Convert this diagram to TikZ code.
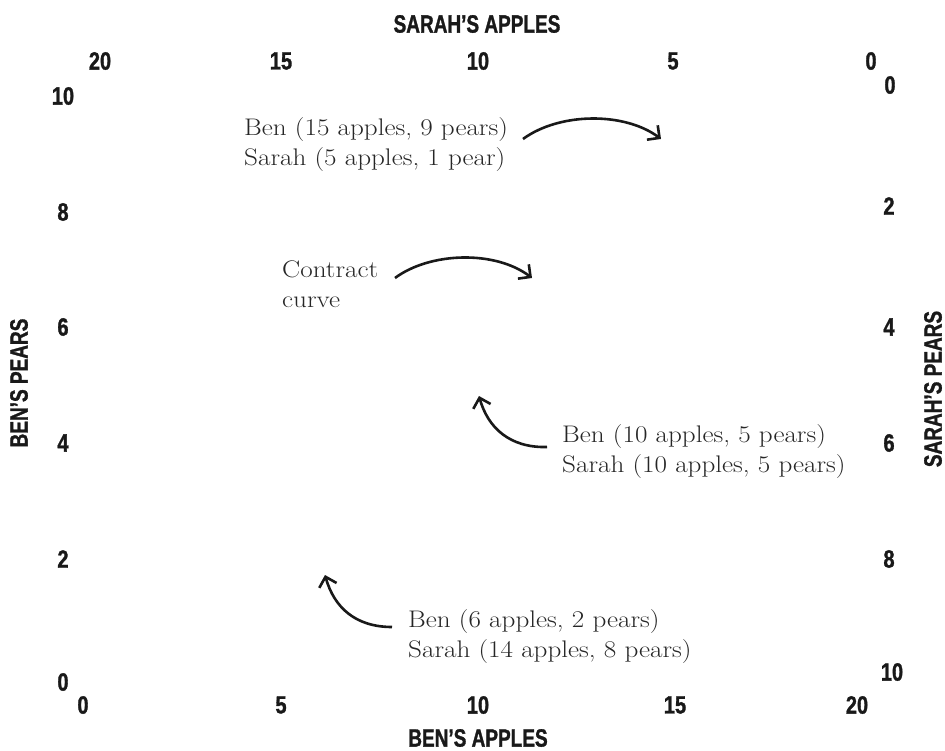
\documentclass[tikz,border=0pt]{standalone}
\usepackage{fontspec}
\setmainfont{Latin Modern Roman}[FakeStretch=1.13]
\usetikzlibrary{arrows.meta}
\newfontfamily\axisnumfont[FakeStretch=0.8,FakeBold=1.2]{Liberation Sans}
\newfontfamily\axistitlefont[FakeStretch=0.76,FakeBold=1.2]{Liberation Sans}
\begin{document}
\begin{tikzpicture}[x=1pt,y=-1pt,
  ticklab/.style={font=\axisnumfont\bfseries\fontsize{25}{25}\selectfont, inner sep=0pt, text=black!90},
  axtitle/.style={font=\axistitlefont\bfseries\fontsize{25}{25}\selectfont, inner sep=0pt, text=black!90},
  note/.style={font=\fontsize{24}{30}\selectfont, align=left, inner sep=0pt, anchor=base west, text=black!85},
  pointer/.style={line width=2.6pt, black!90, -{Straight Barb[length=9pt,width=18pt,line width=2.6pt]}}]
\useasboundingbox (0,0) rectangle (945,751);

% axis titles
\node[axtitle] (tTop) at (477,24) {SARAH’S APPLES};
\node[axtitle] (tBot) at (478,738) {BEN’S APPLES};
\node[axtitle, rotate=90] (tLeft) at (19,383) {BEN’S PEARS};
\node[axtitle, rotate=90] (tRight) at (933,389) {SARAH’S PEARS};

% Sarah's apples (top)
\node[ticklab] (sa20) at (100,61) {20};
\node[ticklab] (sa15) at (281,61) {15};
\node[ticklab] (sa10) at (478,61) {10};
\node[ticklab] (sa5)  at (673,61) {5};
\node[ticklab] (sa0)  at (871,61) {0};

% Ben's apples (bottom)
\node[ticklab] (ba0)  at (83,705) {0};
\node[ticklab] (ba5)  at (281,705) {5};
\node[ticklab] (ba10) at (478,705) {10};
\node[ticklab] (ba15) at (675,705) {15};
\node[ticklab] (ba20) at (857,705) {20};

% Ben's pears (left)
\node[ticklab] (bp10) at (63,96) {10};
\node[ticklab] (bp8)  at (63,212) {8};
\node[ticklab] (bp6)  at (63,327) {6};
\node[ticklab] (bp4)  at (63,443) {4};
\node[ticklab] (bp2)  at (63,559) {2};
\node[ticklab] (bp0)  at (63,682) {0};

% Sarah's pears (right)
\node[ticklab] (sp0)  at (890,85) {0};
\node[ticklab] (sp2)  at (889,206) {2};
\node[ticklab] (sp4)  at (889,327) {4};
\node[ticklab] (sp6)  at (889,443) {6};
\node[ticklab] (sp8)  at (889,559) {8};
\node[ticklab] (sp10) at (892,672) {10};

% annotations (anchored on the baseline of the second line)
\node[note] (n1) at (244,166) {Ben (15 apples, 9 pears)\\Sarah (5 apples, 1 pear)};
\node[note] (n2) at (282,308) {Contract\\curve};
\node[note] (n3) at (562,472) {Ben (10 apples, 5 pears)\\Sarah (10 apples, 5 pears)};
\node[note] (n4) at (408,657) {Ben (6 apples, 2 pears)\\Sarah (14 apples, 8 pears)};

% pointer ends
\coordinate (p1s) at (523,139);
\coordinate (p1e) at (661,139);
\coordinate (p2s) at (395,278);
\coordinate (p2e) at (532,278);
\coordinate (p3s) at (547,447);
\coordinate (p3e) at (479,396);
\coordinate (p4s) at (392,627);
\coordinate (p4e) at (325,575);

\draw[pointer] (p1s) .. controls (560,112) and (625,112) .. (p1e);
\draw[pointer] (p2s) .. controls (430,252) and (495,250) .. (p2e);
\draw[pointer] (p3s) .. controls (510,448) and (488,428) .. (p3e);
\draw[pointer] (p4s) .. controls (355,627) and (334,607) .. (p4e);
\end{tikzpicture}
\end{document}
